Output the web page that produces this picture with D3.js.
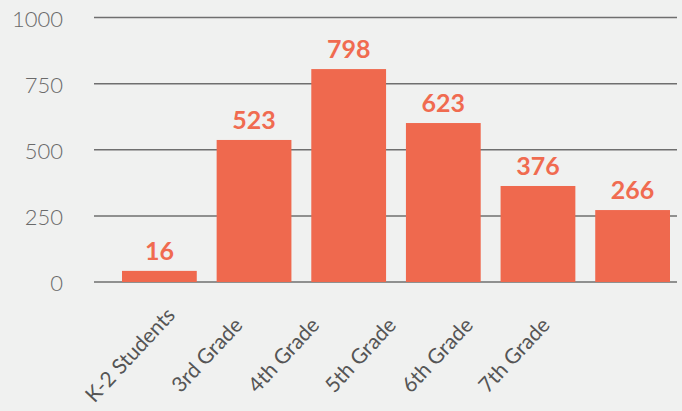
<!DOCTYPE html>
<html>
<head>
<meta charset="utf-8">
<script src="https://cdn.jsdelivr.net/npm/d3@7"></script>
<style>
  body { margin: 0; background: #f0f1f0; }
  svg { display: block; }
</style>
</head>
<body>
<div id="chart"></div>
<script>
  // categories along the x axis
  const categories = ["K-2 Students", "3rd Grade", "4th Grade", "5th Grade", "6th Grade", "7th Grade"];
  // printed value labels
  const labelValues = [16, 523, 798, 623, 376, 266];
  // bar lengths as drawn in the picture (not exactly the printed values)
  const barValues = [42, 537, 805, 601, 363, 272];
  // y axis ticks
  const yTicks = [0, 250, 500, 750, 1000];

  const width = 682, height = 411;

  const svg = d3.select("#chart")
    .append("svg")
      .attr("width", width)
      .attr("height", height);

  const y = d3.scaleLinear()
    .domain([0, 1000])
    .range([282, 17.5]);

  const x = d3.scaleBand()
    .domain(categories)
    .range([122, 670])
    .paddingInner(0.21)
    .paddingOuter(0);

  // category labels are centred on a tighter spacing than the bars
  const xLabel = d3.scalePoint()
    .domain(categories)
    .range([130, 514]);

  // grid lines
  svg.append("g")
    .selectAll("line")
    .data(yTicks)
    .join("line")
      .attr("x1", 94)
      .attr("x2", 677)
      .attr("y1", d => y(d))
      .attr("y2", d => y(d))
      .attr("stroke", "#6f6f6f")
      .attr("stroke-width", 1.5);

  // y tick labels
  svg.append("g")
    .selectAll("text")
    .data(yTicks)
    .join("text")
      .attr("x", 63)
      .attr("y", d => y(d) + 4)
      .attr("text-anchor", "end")
      .attr("dominant-baseline", "middle")
      .attr("font-family", "Lato, 'Open Sans', sans-serif")
      .attr("font-weight", 300)
      .attr("font-size", 22)
      .attr("fill", "#6a6a6a")
      .text(d => d);

  // bars
  svg.append("g")
    .selectAll("rect")
    .data(categories)
    .join("rect")
      .attr("x", d => x(d))
      .attr("y", (d, i) => y(barValues[i]))
      .attr("width", x.bandwidth())
      .attr("height", (d, i) => y(0) - y(barValues[i]))
      .attr("fill", "#ef694e");

  // value labels
  svg.append("g")
    .selectAll("text")
    .data(categories)
    .join("text")
      .attr("x", d => x(d) + x.bandwidth() / 2)
      .attr("y", (d, i) => y(barValues[i]) - 11)
      .attr("text-anchor", "middle")
      .attr("font-family", "Lato, 'Open Sans', sans-serif")
      .attr("font-weight", 700)
      .attr("font-size", 25)
      .attr("fill", "#f06b50")
      .text((d, i) => labelValues[i]);

  // rotated category labels, centred on their point
  svg.append("g")
    .selectAll("text")
    .data(categories)
    .join("text")
      .attr("transform", d => `translate(${xLabel(d)},${355}) rotate(-47)`)
      .attr("text-anchor", "middle")
      .attr("dy", "0.35em")
      .attr("font-family", "Lato, 'Open Sans', sans-serif")
      .attr("font-size", 21)
      .attr("fill", "#555")
      .text(d => d);
</script>
</body>
</html>
